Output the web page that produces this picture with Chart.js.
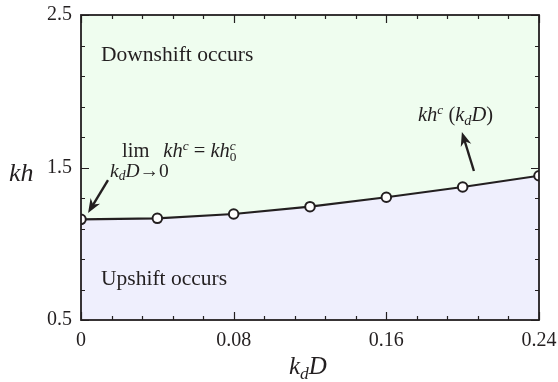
<!DOCTYPE html>
<html>
<head>
<meta charset="utf-8">
<script src="https://cdn.jsdelivr.net/npm/chart.js@4.4.0/dist/chart.umd.min.js"></script>
<style>
    html, body { margin: 0; padding: 0; background: #fff; }
</style>
</head>
<body>
<canvas id="shiftChart" width="558" height="382"></canvas>
<script>
// critical kh against kdD
const kdD = [0, 0.04, 0.08, 0.12, 0.16, 0.20, 0.24];
const khCritical = [1.160, 1.167, 1.195, 1.243, 1.305, 1.372, 1.446];

const xTicks = [0, 0.016, 0.032, 0.048, 0.064, 0.08, 0.096, 0.112, 0.128, 0.144, 0.16, 0.176, 0.192, 0.208, 0.224, 0.24];
const yTicks = [0.5, 0.7, 0.9, 1.1, 1.3, 1.5, 1.7, 1.9, 2.1, 2.3, 2.5];
const xLabelTicks = [0, 0.08, 0.16, 0.24];
const yLabelTicks = [0.5, 1.5, 2.5];

const serif = "'Liberation Serif', 'Times New Roman', serif";
const ink = "#231f20";

function isLabelled(v, list) {
    return list.some(t => Math.abs(t - v) < 1e-6);
}

function fmt(v) {
    return v === 0 ? "0" : String(+v.toFixed(2));
}

// draw a run of text pieces (italic / sub / sup)
function drawRich(ctx, x, y, runs, size) {
    let cx = x;
    runs.forEach(r => {
        const s = size * (r.scale || 1);
        ctx.font = (r.italic ? "italic " : "") + s + "px " + serif;
        ctx.fillText(r.t, cx, y - (r.rise || 0) * size);
        if (!r.stack) cx += ctx.measureText(r.t).width + (r.gap || 0);
    });
}

function drawArrow(ctx, x1, y1, x2, y2) {
    const ang = Math.atan2(y2 - y1, x2 - x1);
    const head = 14, half = 5.5;
    const c = Math.cos(ang), s = Math.sin(ang);
    const bx = x2 - head * c, by = y2 - head * s;
    ctx.beginPath();
    ctx.moveTo(x1, y1);
    ctx.lineTo(x2 - head * 0.6 * c, y2 - head * 0.6 * s);
    ctx.stroke();
    ctx.beginPath();
    ctx.moveTo(x2, y2);
    ctx.lineTo(bx - half * s, by + half * c);
    ctx.lineTo(x2 - head * 0.7 * c, y2 - head * 0.7 * s);
    ctx.lineTo(bx + half * s, by - half * c);
    ctx.closePath();
    ctx.fill();
}

function noOverhang(s) {
    s.paddingLeft = 0;
    s.paddingRight = 0;
    s.paddingTop = 0;
    s.paddingBottom = 0;
}

const regionPlugin = {
    id: "regions",
    beforeDraw(chart) {
        const { ctx, chartArea: a } = chart;
        ctx.save();
        ctx.fillStyle = "#effdef";
        ctx.fillRect(a.left, a.top, a.right - a.left, a.bottom - a.top);
        ctx.restore();
    },
    afterDatasetsDraw(chart) {
        const { ctx, chartArea: a, scales: { x, y } } = chart;
        ctx.save();
        ctx.strokeStyle = ink;
        ctx.fillStyle = ink;

        // inward ticks on all four sides
        ctx.lineWidth = 1.2;
        ctx.beginPath();
        x.ticks.forEach(t => {
            const px = Math.round(x.getPixelForValue(t.value)) + 0.5;
            const len = isLabelled(t.value, xLabelTicks) ? 8 : 4;
            ctx.moveTo(px, a.bottom); ctx.lineTo(px, a.bottom - len);
            ctx.moveTo(px, a.top); ctx.lineTo(px, a.top + len);
        });
        y.ticks.forEach(t => {
            const py = Math.round(y.getPixelForValue(t.value)) + 0.5;
            const len = isLabelled(t.value, yLabelTicks) ? 8 : 4;
            ctx.moveTo(a.left, py); ctx.lineTo(a.left + len, py);
            ctx.moveTo(a.right, py); ctx.lineTo(a.right - len, py);
        });
        ctx.stroke();

        ctx.lineWidth = 1.8;
        ctx.strokeRect(a.left, a.top, a.right - a.left, a.bottom - a.top);

        // axis titles
        ctx.textBaseline = "alphabetic";
        ctx.textAlign = "left";
        drawRich(ctx, 9, 181, [{ t: "kh", italic: true }], 26);
        drawRich(ctx, 289, 374, [
            { t: "k", italic: true },
            { t: "d", italic: true, scale: 0.7, rise: -0.2 },
            { t: "D", italic: true }
        ], 25);

        const X = v => x.getPixelForValue(v);
        const Y = v => y.getPixelForValue(v);

        // region labels
        drawRich(ctx, X(0.0105), Y(2.198), [{ t: "Downshift occurs" }], 21.5);
        drawRich(ctx, X(0.0105), Y(0.730), [{ t: "Upshift occurs" }], 21.5);

        // limit annotation
        drawRich(ctx, X(0.0215), Y(1.569), [
            { t: "lim", gap: 14 },
            { t: "kh", italic: true },
            { t: "c", italic: true, scale: 0.65, rise: 0.35 },
            { t: " = " },
            { t: "kh", italic: true },
            { t: "c", italic: true, scale: 0.65, rise: 0.35, stack: true },
            { t: "0", scale: 0.65, rise: -0.2 }
        ], 20.5);
        drawRich(ctx, X(0.0152), Y(1.438), [
            { t: "k", italic: true },
            { t: "d", italic: true, scale: 0.7, rise: -0.18 },
            { t: "D", italic: true },
            { t: "\u2192" },
            { t: "0" }
        ], 19.5);

        // curve annotation
        drawRich(ctx, X(0.1766), Y(1.805), [
            { t: "kh", italic: true },
            { t: "c", italic: true, scale: 0.65, rise: 0.35 },
            { t: " (" },
            { t: "k", italic: true },
            { t: "d", italic: true, scale: 0.7, rise: -0.18 },
            { t: "D", italic: true },
            { t: ")" }
        ], 20.5);

        ctx.lineWidth = 2.4;
        drawArrow(ctx, X(0.01415), Y(1.418), X(0.0037), Y(1.202));
        drawArrow(ctx, X(0.2059), Y(1.477), X(0.1996), Y(1.733));
        ctx.restore();
    }
};

const tickFont = { family: serif, size: 20 };

new Chart(document.getElementById("shiftChart"), {
    type: "line",
    data: {
        datasets: [{
            data: kdD.map((v, i) => ({ x: v, y: khCritical[i] })),
            borderColor: ink,
            borderWidth: 2.2,
            pointRadius: 4.8,
            pointBorderWidth: 2,
            pointBackgroundColor: "#ffffff",
            pointBorderColor: ink,
            backgroundColor: "#efeffd",
            fill: "start",
            tension: 0,
            clip: 0
        }]
    },
    options: {
        responsive: false,
        animation: false,
        devicePixelRatio: 1,
        layout: { padding: { left: 0, top: 15, right: 19, bottom: 0 } },
        plugins: { legend: { display: false }, tooltip: { enabled: false } },
        scales: {
            x: {
                type: "linear",
                min: 0,
                max: 0.24,
                afterBuildTicks: s => { s.ticks = xTicks.map(v => ({ value: v })); },
                afterFit: s => { s.height = 62; noOverhang(s); },
                grid: { display: false, drawTicks: false },
                border: { display: false },
                ticks: {
                    autoSkip: false,
                    maxRotation: 0,
                    padding: 9,
                    color: ink,
                    font: tickFont,
                    callback: v => isLabelled(v, xLabelTicks) ? fmt(v) : ""
                }
            },
            y: {
                type: "linear",
                min: 0.5,
                max: 2.5,
                afterBuildTicks: s => { s.ticks = yTicks.map(v => ({ value: v })); },
                afterFit: s => { s.width = 81; noOverhang(s); },
                grid: { display: false, drawTicks: false },
                border: { display: false },
                ticks: {
                    autoSkip: false,
                    padding: 9,
                    color: ink,
                    font: tickFont,
                    callback: v => isLabelled(v, yLabelTicks) ? fmt(v) : ""
                }
            }
        }
    },
    plugins: [regionPlugin]
});
</script>
</body>
</html>
